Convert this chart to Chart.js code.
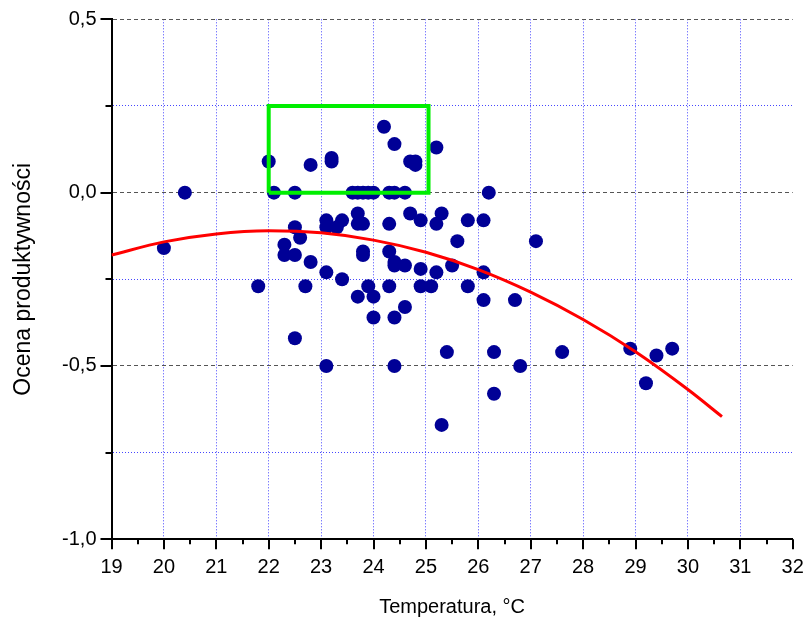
<!DOCTYPE html>
<html>
<head>
<meta charset="utf-8">
<script src="https://cdn.jsdelivr.net/npm/chart.js@4.4.1/dist/chart.umd.min.js"></script>
<style>
  html, body { margin: 0; padding: 0; background: #fff; }
  #wrap { width: 806px; height: 623px; }
</style>
</head>
<body>
<div id="wrap"><canvas id="chart"></canvas></div>
<script>
// measured points (temperature, productivity score)
const tempValues = [
    22.0, 22.8, 23.2, 23.2, 24.2, 24.4, 24.7, 24.8, 24.8, 25.2,
    20.4, 22.1, 22.5, 23.6, 23.7, 23.8, 23.9, 24.0, 24.3, 24.4, 24.6, 26.2,
    20.0, 21.8, 22.3, 22.3, 22.5, 22.5, 22.6, 22.7, 22.8, 22.5,
    23.1, 23.1, 23.1, 23.3, 23.4, 23.4, 23.1,
    23.7, 23.7, 23.8, 23.8, 23.8, 23.7, 23.9, 24.0, 24.0,
    24.3, 24.7, 24.9, 25.3, 25.2, 25.8, 26.1, 25.6,
    24.3, 24.4, 24.4, 24.6, 24.9, 25.2, 25.5, 26.1,
    24.3, 24.9, 25.1, 25.8, 26.1, 26.7, 24.6, 24.4,
    25.4, 26.3, 24.4, 26.3, 25.3, 26.8,
    27.1, 27.6, 28.9, 29.4, 29.7, 29.2
];
const scoreValues = [
    0.09, 0.08, 0.10, 0.09, 0.19, 0.14, 0.09, 0.09, 0.08, 0.13,
    0, 0, 0, 0, 0, 0, 0, 0, 0, 0, 0, 0,
    -0.16, -0.27, -0.15, -0.18, -0.10, -0.18, -0.13, -0.27, -0.20, -0.42,
    -0.08, -0.10, -0.23, -0.10, -0.08, -0.25, -0.50,
    -0.06, -0.09, -0.09, -0.17, -0.18, -0.30, -0.27, -0.30, -0.36,
    -0.09, -0.06, -0.08, -0.06, -0.09, -0.08, -0.08, -0.14,
    -0.17, -0.20, -0.21, -0.21, -0.22, -0.23, -0.21, -0.23,
    -0.27, -0.27, -0.27, -0.27, -0.31, -0.31, -0.33, -0.36,
    -0.46, -0.46, -0.50, -0.58, -0.67, -0.50,
    -0.14, -0.46, -0.45, -0.47, -0.45, -0.55
];

// red trend curve
const fitX = [19, 20, 21, 22, 23, 24, 25, 26, 27, 28, 29, 30, 30.65];
const fitY = [-0.18, -0.142, -0.119, -0.11, -0.116, -0.137, -0.172, -0.222, -0.287, -0.366, -0.459, -0.568, -0.646];

// green frame
const boxX = [22, 25.05, 25.05, 22, 22];
const boxY = [0, 0, 0.25, 0.25, 0];

const xTicks = [19, 32];   // min, max
const yTicks = [-1, 0.5];  // min, max

const FONT = "'Liberation Sans', Arial, sans-serif";
const BLUE_GRID = 'rgb(70,70,255)';

function zip(xs, ys) {
    return xs.map((x, i) => ({x: x, y: ys[i]}));
}

function isMajorY(v) {
    return Math.abs(v * 2 - Math.round(v * 2)) < 1e-6;
}

// draws the outward tick marks (long on major, short on minor)
const tickMarks = {
    id: 'tickMarks',
    afterDraw(chart) {
        const ctx = chart.ctx;
        const xs = chart.scales.x, ys = chart.scales.y;
        const area = chart.chartArea;
        ctx.save();
        ctx.strokeStyle = '#000';
        ctx.lineWidth = 2;
        ctx.beginPath();
        for (let v = xTicks[0]; v <= xTicks[1] + 1e-6; v += 0.5) {
            const px = Math.round(xs.getPixelForValue(v));
            const len = Number.isInteger(v) ? 10 : 5;
            ctx.moveTo(px, area.bottom);
            ctx.lineTo(px, area.bottom + len);
        }
        for (let v = yTicks[0]; v <= yTicks[1] + 1e-6; v += 0.25) {
            const py = Math.round(ys.getPixelForValue(v));
            const len = isMajorY(v) ? 11 : 6;
            ctx.moveTo(area.left, py);
            ctx.lineTo(area.left - len, py);
        }
        ctx.stroke();
        ctx.restore();
    }
};

new Chart("chart", {
    type: "scatter",
    data: {
        datasets: [
            {
                data: zip(boxX, boxY),
                showLine: true,
                borderColor: '#00ee00',
                borderWidth: 4,
                pointRadius: 0,
                tension: 0
            },
            {
                data: zip(fitX, fitY),
                showLine: true,
                borderColor: '#ff0000',
                borderWidth: 3,
                pointRadius: 0,
                tension: 0.4,
                cubicInterpolationMode: 'monotone'
            },
            {
                data: zip(tempValues, scoreValues),
                backgroundColor: '#000096',
                borderColor: '#000096',
                borderWidth: 0,
                pointRadius: 7,
                pointHoverRadius: 7
            }
        ]
    },
    options: {
        responsive: true,
        maintainAspectRatio: false,
        animation: false,
        events: [],
        layout: { padding: { top: 19.3, right: 13.3, bottom: 4, left: 10 } },
        plugins: {
            legend: { display: false },
            tooltip: { enabled: false }
        },
        scales: {
            x: {
                type: 'linear',
                min: xTicks[0],
                max: xTicks[1],
                afterFit: (scale) => {
                    scale.height = 79.7;
                    scale.paddingLeft = 0;
                    scale.paddingRight = 0;
                },
                ticks: {
                    stepSize: 1,
                    padding: 16,
                    color: '#000',
                    font: { family: FONT, size: 20 }
                },
                grid: {
                    drawTicks: false,
                    lineWidth: 1,
                    color: (ctx) => {
                        const v = ctx.tick ? ctx.tick.value : null;
                        if (v === xTicks[0] || v === xTicks[1]) return 'rgba(0,0,0,0)';
                        return BLUE_GRID;
                    }
                },
                border: {
                    display: true,
                    color: '#000',
                    width: 2,
                    dash: (ctx) => ctx.tick ? [1, 2] : []
                },
                title: {
                    display: true,
                    text: 'Temperatura, °C',
                    color: '#000',
                    padding: 0,
                    font: { family: FONT, size: 20 }
                }
            },
            y: {
                type: 'linear',
                min: yTicks[0],
                max: yTicks[1],
                afterFit: (scale) => {
                    scale.width = 101.5;
                    scale.paddingTop = 0;
                    scale.paddingBottom = 0;
                },
                ticks: {
                    stepSize: 0.25,
                    padding: 15,
                    color: '#000',
                    font: { family: FONT, size: 20 },
                    callback: (v) => isMajorY(v) ? v.toFixed(1).replace('.', ',') : ''
                },
                grid: {
                    drawTicks: false,
                    lineWidth: 1,
                    color: (ctx) => {
                        const v = ctx.tick ? ctx.tick.value : null;
                        if (v === yTicks[0]) return 'rgba(0,0,0,0)';
                        return isMajorY(v) ? '#555555' : BLUE_GRID;
                    }
                },
                border: {
                    display: true,
                    color: '#000',
                    width: 2,
                    dash: (ctx) => {
                        if (!ctx.tick) return [];
                        return isMajorY(ctx.tick.value) ? [4, 3] : [1, 2];
                    }
                },
                title: {
                    display: true,
                    text: 'Ocena produktywności',
                    color: '#000',
                    padding: 0,
                    font: { family: FONT, size: 23 }
                }
            }
        }
    },
    plugins: [tickMarks]
});
</script>
</body>
</html>
